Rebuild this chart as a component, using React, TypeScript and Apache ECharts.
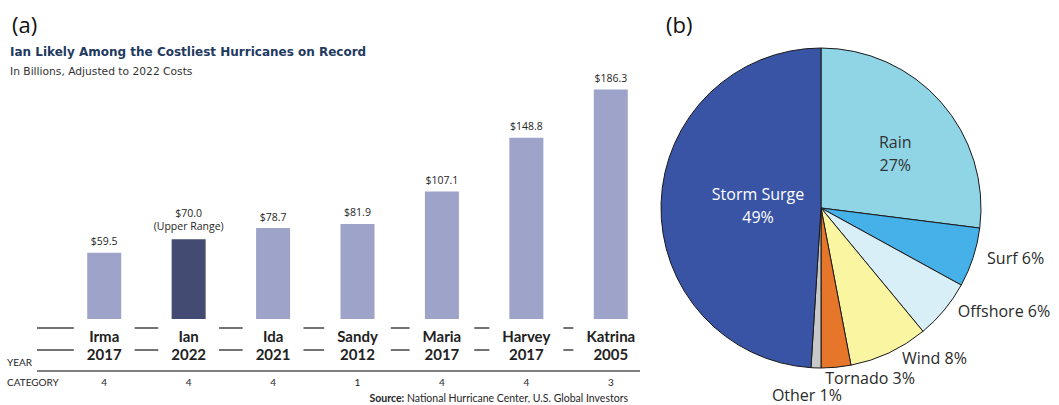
import React, { useEffect, useRef } from "react";
import * as echarts from "echarts";

// ---- Panel (a): costliest hurricanes ----
const storms = ["Irma", "Ian", "Ida", "Sandy", "Maria", "Harvey", "Katrina"];
const stormYears = ["2017", "2022", "2021", "2012", "2017", "2017", "2005"];
const stormCategories = ["4", "4", "4", "1", "4", "4", "3"];
const costBillions = [59.5, 70.0, 78.7, 81.9, 107.1, 148.8, 186.3];
const highlightedStorm = "Ian";
const highlightNote = "(Upper Range)";

// ---- Panel (b): damage sources ----
const damageSources = ["Rain", "Surf", "Offshore", "Wind", "Tornado", "Other", "Storm Surge"];
const damageShares = [27, 6, 6, 8, 3, 1, 49];
const damageColors = ["#8fd5e6", "#45b1e8", "#d9eff8", "#faf5a0", "#e5762a", "#c8c8c8", "#3a54a5"];
const insideLabelled = ["Rain", "Storm Surge"];
// small nudges of label placement (dx, dy) relative to ECharts' default spot
const labelNudges: Record<string, [number, number]> = {
  Rain: [12, 0],
  "Storm Surge": [20, 0],
  Wind: [0, 3],
  Tornado: [-23, 9],
  Other: [38, 25],
};

const TXT = "#262626";

export default function App() {
  const ref = useRef<HTMLDivElement>(null);
  useEffect(() => {
    document.body.style.margin = "0";
    if (!ref.current) return;
    const chart = echarts.init(ref.current, null, { renderer: "svg" });

    const barData = costBillions.map((v, i) => {
      const hl = storms[i] === highlightedStorm;
      return {
        value: v,
        itemStyle: { color: hl ? "#444b73" : "#9ea4c9" },
        label: hl ? { distance: 7 } : undefined,
      };
    });

    const pieData = damageSources.map((name, i) => {
      const inside = insideLabelled.includes(name);
      return {
        name,
        value: damageShares[i],
        itemStyle: { color: damageColors[i] },
        label: inside
          ? {
              position: "inside",
              color: name === "Storm Surge" ? "#ffffff" : "#333333",
              lineHeight: 23,
              formatter: (p: any) => `${p.name}\n${p.value}%`,
            }
          : undefined,
      };
    });

    const lineStyle = { stroke: "#444", lineWidth: 1.5 };

    chart.setOption({
      animation: false,
      backgroundColor: "#ffffff",
      grid: { left: 62, width: 591, top: 72, bottom: 86, containLabel: false },
      xAxis: [
        {
          type: "category",
          data: storms,
          axisLine: { show: false },
          axisTick: { show: false },
          axisLabel: {
            interval: 0,
            margin: 5,
            formatter: (val: string, idx: number) => `${val}\n${stormYears[idx]}`,
            fontFamily: "Lato",
            fontWeight: "bold",
            fontSize: 15,
            lineHeight: 18,
            color: "#222",
            backgroundColor: "#ffffff",
            padding: [3, 13, 3, 13],
          },
        },
        {
          type: "category",
          data: stormCategories,
          position: "bottom",
          axisLine: { show: false },
          axisTick: { show: false },
          axisLabel: {
            interval: 0,
            margin: 58,
            fontFamily: "Lato",
            fontSize: 10,
            color: TXT,
          },
        },
      ],
      yAxis: {
        type: "value",
        min: 8,
        max: 200,
        show: false,
      },
      series: [
        {
          type: "bar",
          xAxisIndex: 0,
          data: barData,
          barWidth: 34,
          label: {
            show: true,
            position: "top",
            distance: 5,
            fontFamily: "Open Sans",
            fontSize: 10.5,
            lineHeight: 13,
            color: TXT,
            formatter: (p: any) =>
              `$${Number(p.value).toFixed(1)}` +
              (storms[p.dataIndex] === highlightedStorm ? `\n${highlightNote}` : ""),
          },
        },
        {
          type: "pie",
          center: [821, 208],
          radius: 160,
          startAngle: 90,
          clockwise: true,
          avoidLabelOverlap: false,
          data: pieData,
          itemStyle: { borderColor: "#1a1a1a", borderWidth: 1 },
          label: {
            show: true,
            position: "outside",
            distanceToLabelLine: 7,
            fontFamily: "Open Sans",
            fontSize: 16,
            color: "#2a2a2a",
            formatter: (p: any) => `${p.name} ${p.value}%`,
          },
          labelLine: { show: false, length: 2, length2: 5 },
          labelLayout: (params: any) => {
            const name = damageSources[params.dataIndex];
            const n = labelNudges[name] || [0, 0];
            return { hideOverlap: false, dx: n[0], dy: n[1] };
          },
          emphasis: { disabled: true },
        },
      ],
      graphic: [
        {
          type: "text",
          z: 10,
          style: { text: "(a)", x: 12, y: 24, font: "22px 'Open Sans'", fill: "#111", textVerticalAlign: "middle", verticalAlign: "middle" },
        },
        {
          type: "text",
          z: 10,
          style: { text: "(b)", x: 666, y: 24, font: "22px 'Open Sans'", fill: "#111", textVerticalAlign: "middle", verticalAlign: "middle" },
        },
        {
          type: "text",
          style: {
            text: "Ian Likely Among the Costliest Hurricanes on Record",
            x: 10, y: 52, font: "bold 12px 'DejaVu Sans'", fill: "#1f3a5f",
            textVerticalAlign: "middle", verticalAlign: "middle",
          },
        },
        {
          type: "text",
          style: {
            text: "In Billions, Adjusted to 2022 Costs",
            x: 10, y: 71, font: "10.7px 'DejaVu Sans'", fill: "#333",
            textVerticalAlign: "middle", verticalAlign: "middle",
          },
        },
        { type: "line", z: -10, shape: { x1: 37, y1: 328, x2: 640, y2: 328 }, style: lineStyle },
        { type: "line", z: -10, shape: { x1: 37, y1: 350, x2: 640, y2: 350 }, style: lineStyle },
        { type: "line", z: -10, shape: { x1: 37, y1: 371, x2: 640, y2: 371 }, style: { stroke: "#555", lineWidth: 1.5 } },
        {
          type: "text",
          style: { text: "YEAR", x: 7, y: 362, font: "10px Lato", fill: TXT, textVerticalAlign: "middle", verticalAlign: "middle" },
        },
        {
          type: "text",
          style: { text: "CATEGORY", x: 7, y: 382, font: "10px Lato", fill: TXT, textVerticalAlign: "middle", verticalAlign: "middle" },
        },
        {
          type: "text",
          style: {
            text: "{b|Source:} National Hurricane Center, U.S. Global Investors",
            x: 628, y: 398,
            font: "10.5px Lato",
            fill: TXT,
            rich: { b: { fontWeight: "bold", fontSize: 10.5, fontFamily: "Lato", fill: TXT, color: TXT } },
            textAlign: "right", align: "right",
            textVerticalAlign: "middle", verticalAlign: "middle",
          },
        },
      ],
    });
    return () => chart.dispose();
  }, []);
  return <div ref={ref} style={{ position: "fixed", left: 0, top: 0, width: 1059, height: 405 }} />;
}
